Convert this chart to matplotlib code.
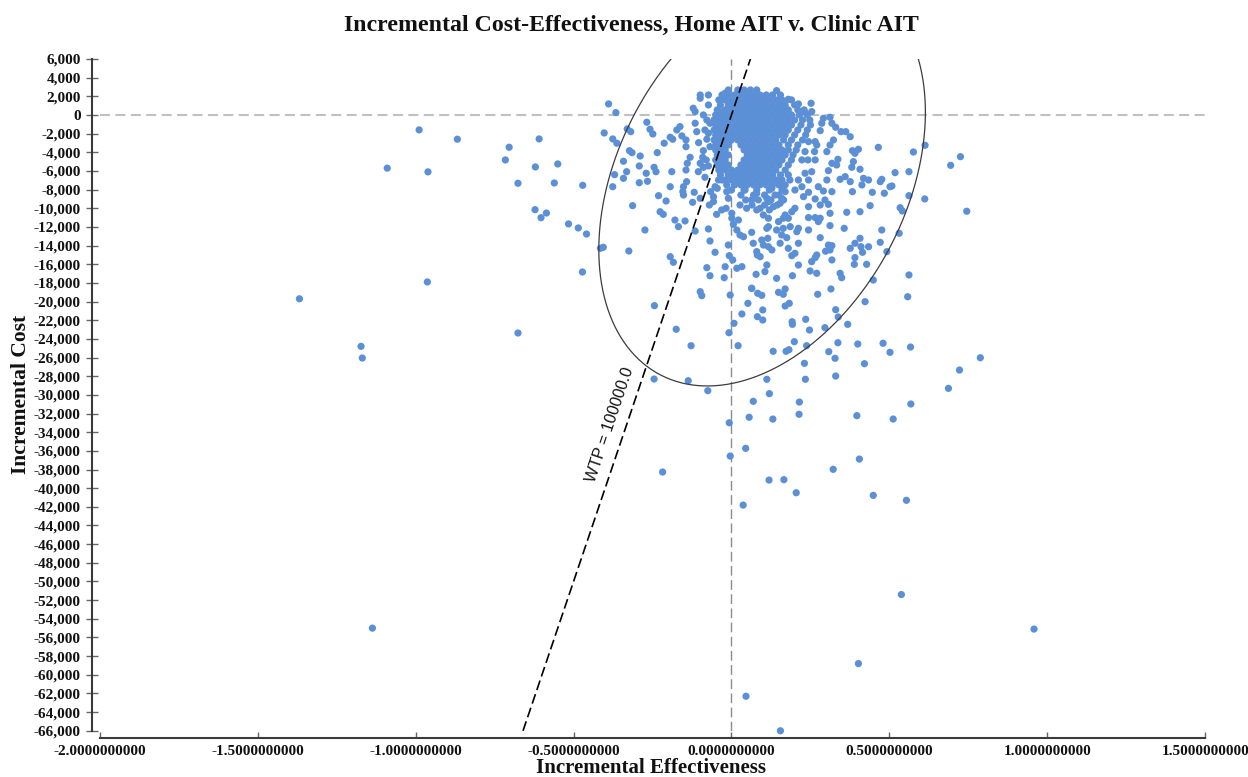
import numpy as np
import matplotlib
matplotlib.use("Agg")
import matplotlib.pyplot as plt

plt.rcParams['axes.unicode_minus'] = False

TITLE = "Incremental Cost-Effectiveness, Home AIT v. Clinic AIT"
X_LABEL = "Incremental Effectiveness"
Y_LABEL = "Incremental Cost"
WTP = 100000.0
WTP_LABEL = "WTP = 100000.0"
X_TICKS = [-2.0, -1.5, -1.0, -0.5, 0.0, 0.5, 1.0, 1.5]
Y_TICKS = list(range(-66000, 6001, 2000))

# (incremental effectiveness, incremental cost in thousands)
outliers_left = [
    (-1.368, -19.7), (-1.090, -5.7), (-0.989, -1.6), (-0.961, -6.1), (-0.963, -17.9),
    (-0.868, -2.6), (-1.173, -24.8), (-1.169, -26.05), (-1.137, -55.0),
    (-0.704, -3.46), (-0.716, -4.82), (-0.609, -2.57), (-0.621, -5.57), (-0.550, -5.25),
    (-0.676, -7.32), (-0.561, -7.29), (-0.471, -7.54), (-0.622, -10.15), (-0.603, -11.01),
    (-0.586, -10.51), (-0.516, -11.68), (-0.485, -12.11), (-0.459, -12.76), (-0.415, -14.29),
    (-0.406, -14.18), (-0.472, -16.83), (-0.389, 1.18), (-0.366, 0.25), (-0.403, -1.93),
    (-0.376, -2.57), (-0.363, -3.03), (-0.370, -6.40), (-0.376, -7.69), (-0.676, -23.37),
]

cluster_upper_left = [
    (-0.330, -1.50), (-0.319, -1.79), (-0.323, -3.83), (-0.315, -4.04), (-0.289, -4.40),
    (-0.342, -4.96), (-0.268, -0.78), (-0.258, -1.53), (-0.249, -2.04), (-0.235, -4.04),
    (-0.213, -3.03), (-0.194, -2.39), (-0.186, -2.60), (-0.173, -1.61), (-0.163, -1.25),
    (-0.157, -2.25), (-0.144, -2.68), (-0.144, -3.40), (-0.131, -4.54), (-0.140, -5.18),
    (-0.292, -5.47), (-0.245, -5.61), (-0.239, -6.08), (-0.270, -6.25), (-0.332, -6.08),
    (-0.342, -6.79), (-0.292, -7.26), (-0.266, -7.11), (-0.189, -6.08), (-0.144, -5.90),
    (-0.194, -7.69), (-0.152, -7.69), (-0.142, -7.15), (-0.105, -6.08), (-0.099, -5.18),
    (-0.091, -4.54), (-0.104, -2.97), (-0.115, -0.89), (-0.110, -1.79), (-0.099, 2.14),
    (-0.073, 2.14), (-0.099, 1.79), (-0.121, 0.72), (-0.115, 0.36), (-0.089, 0.00),
    (-0.073, 1.07), (-0.078, -0.54), (-0.068, -0.89), (-0.084, -1.61), (-0.073, -1.96),
    (-0.078, -2.60), (-0.068, -3.40), (-0.089, -3.83), (-0.080, -4.82), (-0.073, -5.47),
    (-0.089, -5.61), (-0.084, -6.68), (-0.052, -7.69), (-0.041, -6.97), (-0.047, -0.18),
    (-0.036, 0.36), (-0.020, 2.33), (-0.010, 2.68), (-0.015, 2.14),
]

cluster_upper_right = [
    (0.143, 2.61), (0.154, 1.61), (0.180, 1.68), (0.212, 1.18), (0.252, 1.25), (0.231, 0.36),
    (0.254, 0.36), (0.291, -0.36), (0.312, -0.25), (0.286, -0.89), (0.318, -0.89),
    (0.281, -1.68), (0.330, -1.32), (0.347, -1.79), (0.362, -1.79), (0.376, -2.33),
    (0.323, -2.68), (0.312, -3.22), (0.302, -3.93), (0.265, -2.86), (0.270, -3.22),
    (0.263, -3.93), (0.244, -2.86), (0.383, -3.83), (0.391, -4.11), (0.402, -3.68),
    (0.465, -3.47), (0.576, -3.97), (0.613, -3.25), (0.318, -5.18), (0.337, -4.75),
    (0.333, -5.36), (0.307, -5.97), (0.302, -6.97), (0.381, -5.61), (0.386, -5.00),
    (0.407, -5.82), (0.360, -6.61), (0.344, -6.90), (0.376, -7.15), (0.418, -6.79),
    (0.434, -6.97), (0.476, -6.90), (0.471, -7.15), (0.508, -7.61), (0.518, -6.18),
    (0.562, -6.08), (0.275, -7.69), (0.244, -6.97), (0.233, -6.25), (0.254, -6.08),
    (0.212, -6.97), (0.265, -4.82), (0.242, -4.82), (0.233, -3.93), (0.223, -4.82),
    (0.725, -4.47), (0.694, -5.40), (0.745, -10.32),
]

cluster_lower_left = [
    (-0.313, -9.72), (-0.274, -12.33), (-0.325, -14.58), (-0.231, -8.65), (-0.207, -9.22),
    (-0.226, -10.37), (-0.216, -10.65), (-0.179, -11.26), (-0.168, -11.97), (-0.147, -11.36),
    (-0.154, -8.22), (-0.152, -8.58), (-0.118, -8.29), (-0.123, -9.36), (-0.099, -8.93),
    (-0.115, -12.44), (-0.194, -15.19), (-0.184, -15.79), (-0.073, -12.22), (-0.068, -13.51),
    (-0.052, -14.72), (-0.078, -16.37), (-0.068, -17.23), (-0.099, -18.94), (-0.094, -19.37),
    (-0.023, -17.44), (-0.020, -16.26), (-0.007, -15.08), (0.004, -15.54), (0.017, -16.43),
    (0.033, -16.26), (-0.004, -19.30), (-0.070, -9.65), (-0.057, -9.29), (-0.066, -8.22),
    (-0.045, -7.86), (-0.057, -8.76), (-0.047, -10.65), (-0.031, -10.18), (-0.017, -10.00),
    (-0.015, -8.22), (-0.010, -8.93), (0.001, -10.54), (0.001, -11.07), (0.006, -11.72),
    (0.017, -12.33), (0.022, -11.26), (0.027, -12.86), (0.038, -13.05), (0.064, -12.58),
    (0.069, -13.75), (0.080, -14.65), (0.082, -15.01), (0.096, -13.40), (0.101, -13.94),
    (0.091, -15.19), (0.112, -16.08), (0.106, -16.79), (0.078, -17.08), (0.064, -18.58),
    (0.043, -8.04), (0.027, -9.65), (0.048, -10.00), (0.064, -9.11), (0.080, -8.39),
    (0.091, -10.00), (0.101, -10.72), (0.112, -12.15), (0.117, -9.29), (-0.010, -13.94),
]

cluster_lower_right = [
    (0.612, -9.00), (0.562, -8.65), (0.534, -9.94), (0.541, -10.29), (0.476, -12.33),
    (0.531, -12.68), (0.471, -13.65), (0.492, -14.65), (0.562, -17.15), (0.558, -19.48),
    (0.449, -17.69), (0.502, -7.69), (0.484, -8.39), (0.446, -8.29), (0.439, -9.72),
    (0.413, -7.50), (0.383, -8.22), (0.407, -10.37), (0.365, -10.43), (0.357, -12.15),
    (0.407, -13.22), (0.391, -13.75), (0.410, -14.12), (0.434, -14.12), (0.415, -14.72),
    (0.391, -15.29), (0.428, -16.01), (0.389, -16.01), (0.376, -14.29), (0.318, -8.22),
    (0.291, -8.15), (0.296, -9.11), (0.307, -9.58), (0.312, -10.54), (0.312, -11.86),
    (0.281, -11.07), (0.265, -11.00), (0.244, -11.00), (0.275, -11.43), (0.244, -12.33),
    (0.281, -13.15), (0.307, -13.94), (0.312, -14.47), (0.298, -14.60), (0.318, -14.01),
    (0.318, -15.54), (0.270, -15.01), (0.265, -15.29), (0.254, -15.72), (0.212, -16.08),
    (0.249, -16.72), (0.270, -16.97), (0.344, -16.97), (0.349, -17.44), (0.193, -17.23),
    (0.143, -17.51), (0.149, -19.01), (0.170, -18.65), (0.164, -19.22), (0.273, -19.22),
    (0.315, -18.65), (0.201, -14.83), (0.191, -15.08), (0.212, -13.75), (0.180, -14.29),
    (0.154, -13.75), (0.128, -14.47), (0.117, -14.12), (0.143, -12.33), (0.159, -12.86),
    (0.164, -12.15), (0.186, -11.97), (0.212, -12.15), (0.207, -12.51), (0.175, -13.15),
    (0.117, -11.97), (0.115, -13.22), (0.281, -9.65), (0.265, -9.00), (0.244, -9.83),
    (0.228, -8.76), (0.244, -8.29), (0.201, -10.00), (0.191, -10.37), (0.170, -10.72),
    (0.180, -11.07), (0.164, -11.07), (0.149, -11.43), (0.117, -11.07), (0.133, -9.83),
    (0.154, -9.47), (0.159, -8.93), (0.138, -8.58), (0.112, -8.93), (0.170, -8.22),
    (0.201, -8.04), (0.223, -7.69), (0.128, -7.86),
]

lower_spread = [
    (-0.244, -20.44), (-0.175, -22.97), (-0.128, -24.73), (-0.245, -28.30), (-0.137, -28.48),
    (-0.075, -29.55), (-0.008, -23.34), (0.008, -22.33), (0.021, -24.73), (-0.007, -32.99),
    (-0.004, -36.56), (0.045, -35.73), (0.037, -41.81), (-0.218, -38.27), (0.033, -21.33),
    (0.052, -20.19), (0.082, -21.62), (0.099, -20.90), (0.099, -21.98), (0.083, -19.11),
    (0.096, -19.33), (0.170, -20.48), (0.183, -20.19), (0.192, -22.16), (0.193, -22.44),
    (0.235, -21.90), (0.247, -23.05), (0.132, -25.33), (0.173, -25.33), (0.182, -25.16),
    (0.199, -24.30), (0.238, -24.73), (0.231, -26.62), (0.234, -28.33), (0.112, -28.33),
    (0.120, -29.87), (0.069, -30.69), (0.056, -32.40), (0.131, -32.59), (0.215, -30.77),
    (0.214, -32.08), (0.119, -39.13), (0.166, -39.09), (0.205, -40.49), (0.296, -22.80),
    (0.330, -20.87), (0.338, -21.65), (0.368, -22.44), (0.308, -25.37), (0.337, -24.41),
    (0.328, -26.08), (0.330, -27.98), (0.400, -24.55), (0.421, -26.66), (0.423, -20.01),
    (0.480, -24.47), (0.502, -25.44), (0.567, -24.87), (0.788, -26.02), (0.722, -27.34),
    (0.687, -29.30), (0.568, -30.98), (0.512, -32.59), (0.397, -32.23), (0.405, -36.88),
    (0.322, -37.98), (0.449, -40.77), (0.554, -41.30), (0.064, -18.58),
    (0.538, -51.4), (0.958, -55.1), (0.402, -58.8), (0.046, -62.3), (0.155, -66.0),
]

# dense core of the cloud, read row by row: (cost in thousands, effectiveness values)
core_rows = [
    (2.68, [0.02, 0.04, 0.06, 0.08]),
    (2.14, [-0.03, -0.01, 0.01, 0.03, 0.05, 0.07, 0.09, 0.11, 0.13, 0.155]),
    (1.61, [-0.04, -0.02, 0.00, 0.02, 0.04, 0.06, 0.08, 0.10, 0.12, 0.14, 0.16, 0.19]),
    (1.07, [-0.035, -0.01, 0.01, 0.03, 0.05, 0.07, 0.09, 0.11, 0.13, 0.15, 0.17, 0.20]),
    (0.54, [-0.045, -0.02, 0.00, 0.02, 0.04, 0.06, 0.08, 0.10, 0.12, 0.14, 0.16, 0.18, 0.21, 0.23]),
    (0.00, [-0.05, -0.03, -0.01, 0.01, 0.03, 0.05, 0.07, 0.09, 0.11, 0.13, 0.15, 0.17, 0.19, 0.215, 0.24]),
    (-0.54, [-0.055, -0.04, -0.02, 0.00, 0.02, 0.04, 0.06, 0.08, 0.10, 0.12, 0.14, 0.16, 0.18, 0.20, 0.225, 0.248]),
    (-1.07, [-0.05, -0.03, -0.01, 0.01, 0.03, 0.05, 0.07, 0.09, 0.11, 0.13, 0.15, 0.17, 0.19, 0.22, 0.25]),
    (-1.61, [-0.055, -0.04, -0.02, 0.00, 0.02, 0.04, 0.06, 0.08, 0.10, 0.12, 0.14, 0.16, 0.18, 0.21, 0.24]),
    (-2.14, [-0.05, -0.03, -0.01, 0.01, 0.03, 0.05, 0.07, 0.09, 0.11, 0.13, 0.15, 0.17, 0.20, 0.235]),
    (-2.68, [-0.055, -0.04, -0.02, 0.00, 0.02, 0.04, 0.06, 0.08, 0.10, 0.12, 0.14, 0.165, 0.19, 0.225]),
    (-3.22, [-0.05, -0.03, -0.01, 0.03, 0.05, 0.07, 0.09, 0.11, 0.13, 0.15, 0.18, 0.21]),
    (-3.75, [-0.05, -0.04, -0.02, 0.04, 0.06, 0.08, 0.10, 0.12, 0.14, 0.16, 0.18, 0.205]),
    (-4.29, [-0.045, -0.03, -0.01, 0.05, 0.07, 0.09, 0.11, 0.13, 0.15, 0.17, 0.195]),
    (-4.82, [-0.05, -0.04, -0.02, 0.04, 0.06, 0.08, 0.10, 0.12, 0.14, 0.16, 0.19]),
    (-5.36, [-0.045, -0.03, -0.01, 0.03, 0.05, 0.07, 0.09, 0.11, 0.13, 0.15, 0.18]),
    (-5.90, [-0.04, -0.02, 0.00, 0.02, 0.04, 0.06, 0.08, 0.10, 0.12, 0.14, 0.17]),
    (-6.43, [-0.035, -0.01, 0.01, 0.03, 0.05, 0.07, 0.09, 0.11, 0.13, 0.155, 0.18]),
    (-6.97, [-0.03, -0.02, 0.00, 0.02, 0.04, 0.06, 0.08, 0.10, 0.12, 0.14, 0.16, 0.185]),
    (-7.50, [-0.015, 0.01, 0.03, 0.05, 0.07, 0.09, 0.11, 0.13, 0.15, 0.17]),
    (-8.04, [0.00, 0.04, 0.08, 0.12, 0.16]),
    (-8.58, [0.03, 0.07, 0.105, 0.15]),
    (-9.11, [0.045, 0.085, 0.125, 0.165]),
    (-9.65, [0.065, 0.105, 0.145]),
    (-10.18, [0.08, 0.12]),
]

# confidence ellipse: centre and two conjugate semi-diameters (effectiveness, cost)
ELLIPSE_CENTER = (0.097, -7070.0)
ELLIPSE_V1 = (0.3234, 20763.0)
ELLIPSE_V2 = (-0.4034, 7200.0)
WTP_LABEL_POS = (-0.384, -33200.0)

POINT_COLOR = '#5b8fd6'
SERIF = ['Liberation Serif', 'DejaVu Serif']
SANS = ['Liberation Sans', 'DejaVu Sans']

# ---- assemble points ----
pairs = (outliers_left + cluster_upper_left + cluster_upper_right +
         cluster_lower_left + cluster_lower_right + lower_spread)
eff = [p[0] for p in pairs]
cost = [p[1] * 1000.0 for p in pairs]
for yk, xs in core_rows:
    for xv in xs:
        eff.append(xv)
        cost.append(yk * 1000.0)
eff = np.array(eff)
cost = np.array(cost)

fig = plt.figure(figsize=(12.48, 7.77), dpi=100)
ax = fig.add_axes([0.0800, 0.0595, 0.8857, 0.8646])
ax.set_xlim(-2.0, 1.5)
ax.set_ylim(-66000, 6000)

# reference lines
ax.axhline(0, color='#c0c0c0', lw=1.5, dashes=(4.8, 2.6), zorder=1)
ax.axvline(0, color='#8c8c8c', lw=1.0, dashes=(7, 3.2), zorder=1)

ax.scatter(eff, cost, s=27, color=POINT_COLOR, edgecolors='none', zorder=2, clip_on=False)

# WTP line
wy = np.array([-66000.0, 6000.0])
ax.plot(wy / WTP, wy, color='black', lw=1.2, dashes=(6, 2.6), zorder=3)

# ellipse
t = np.linspace(0, 2 * np.pi, 500)
ex = ELLIPSE_CENTER[0] + ELLIPSE_V1[0] * np.cos(t) + ELLIPSE_V2[0] * np.sin(t)
ey = ELLIPSE_CENTER[1] + ELLIPSE_V1[1] * np.cos(t) + ELLIPSE_V2[1] * np.sin(t)
ax.plot(ex, ey, color='#3c3c3c', lw=0.9, zorder=3)

# WTP label rotated along line
p0 = ax.transData.transform((0.0, 0.0))
p1 = ax.transData.transform((-0.5, -50000.0))
ang = np.degrees(np.arctan2(p0[1] - p1[1], p0[0] - p1[0]))
ax.text(WTP_LABEL_POS[0], WTP_LABEL_POS[1], WTP_LABEL, rotation=ang,
        rotation_mode='anchor', ha='center', va='center', fontsize=11.5,
        family=SANS, color='#111111', zorder=4)

# spines
for s in ['top', 'right']:
    ax.spines[s].set_visible(False)
ax.spines['left'].set_position(('outward', 5.8))
ax.spines['bottom'].set_position(('outward', 5.5))
for s in ['left', 'bottom']:
    ax.spines[s].set_color('#3a3a3a')
    ax.spines[s].set_linewidth(1.5)

ax.set_xticks(X_TICKS)
ax.set_xticklabels([f"{v:.10f}" for v in X_TICKS])
ax.set_yticks(Y_TICKS)
ax.set_yticklabels([f"{v:,}" for v in Y_TICKS])
ax.tick_params(axis='y', direction='inout', length=8, width=1, color='#666666', pad=4)
ax.tick_params(axis='x', direction='in', length=4.3, width=1, color='#666666', pad=5)
for lab in ax.get_yticklabels() + ax.get_xticklabels():
    lab.set_fontfamily(SERIF)
    lab.set_fontweight('bold')
    lab.set_fontsize(11)
    lab.set_color('#111111')

fig.text(631 / 1248, 1 - 31 / 777, TITLE, ha='center', va='baseline',
         fontsize=17.2, fontweight='bold', family=SERIF, color='#111111')
fig.text(651 / 1248, 1 - 773 / 777, X_LABEL, ha='center', va='baseline',
         fontsize=15, fontweight='bold', family=SERIF, color='#111111')
fig.text(21 / 1248, 1 - 394 / 777, Y_LABEL, ha='center', va='center', rotation=90,
         fontsize=15.5, fontweight='bold', family=SERIF, color='#111111')

fig.savefig('out.png', dpi=100)
